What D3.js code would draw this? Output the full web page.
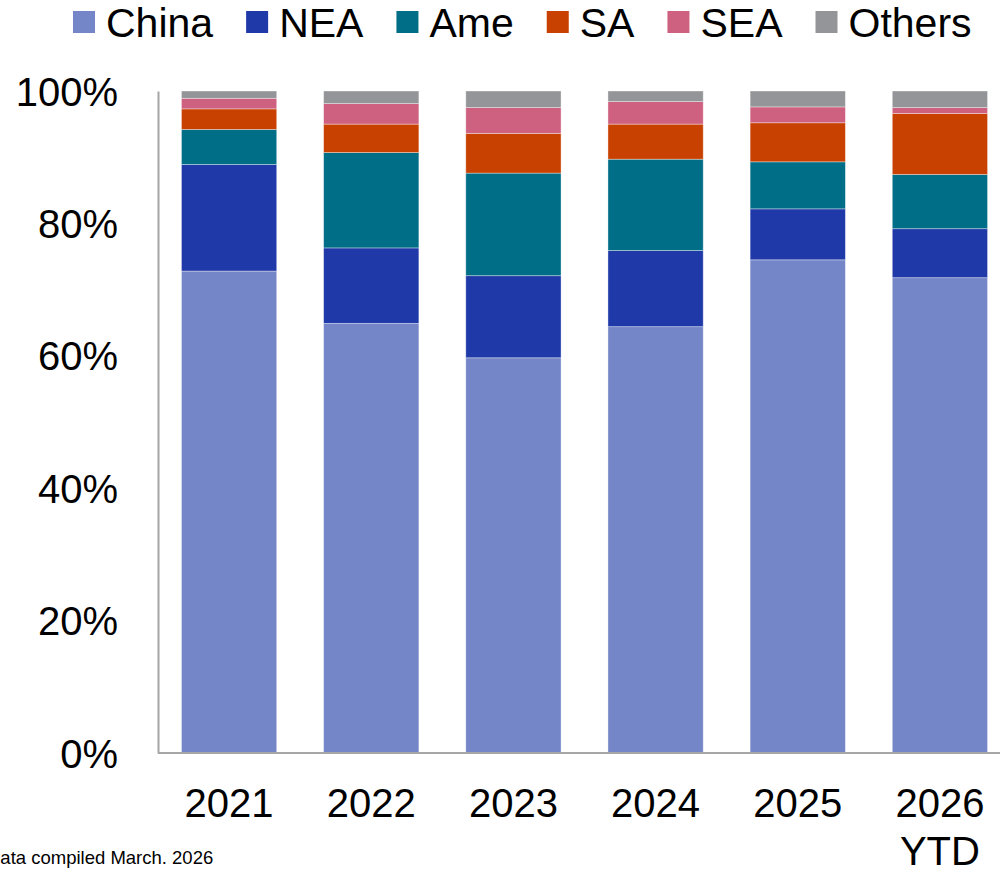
<!DOCTYPE html>
<html>
<head>
<meta charset="utf-8">
<script src="https://cdn.jsdelivr.net/npm/d3@7"></script>
<style>
  html, body { margin: 0; padding: 0; background: #fff; }
  svg { display: block; font-family: "Liberation Sans", Arial, sans-serif; }
</style>
</head>
<body>
<svg id="chart" width="1000" height="870"></svg>
<script>
// Share of volume by region, per year (percent)
const years = ["2021", "2022", "2023", "2024", "2025", "2026 YTD"];
const regions = ["China", "NEA", "Ame", "SA", "SEA", "Others"];
const colors = ["#7486C8", "#1F3AA8", "#006E87", "#C84100", "#CE6080", "#939598"];

const china  = [72.8, 64.9, 59.7, 64.4, 74.5, 71.8];
const nea    = [16.1, 11.4, 12.4, 11.5,  7.7,  7.4];
const ame    = [ 5.3, 14.4, 15.5, 13.8,  7.1,  8.2];
const sa     = [ 3.1,  4.3,  6.0,  5.3,  5.9,  9.2];
const sea    = [ 1.6,  3.1,  3.9,  3.4,  2.4,  0.9];
const others = [ 1.1,  1.9,  2.5,  1.6,  2.4,  2.5];

const yTicks = [0, 20, 40, 60, 80, 100];
const footnote = "Data compiled March. 2026";

(function () {
  const seriesValues = [china, nea, ame, sa, sea, others];
  const table = years.map((yr, i) => {
    const row = { year: yr };
    regions.forEach((r, k) => { row[r] = seriesValues[k][i]; });
    return row;
  });

  const svg = d3.select("#chart");
  const m = { left: 158, right: 1011, top: 91, bottom: 753 };

  const x = d3.scaleBand().domain(years).range([m.left, m.right]).paddingInner(0.33).paddingOuter(0.165);
  const y = d3.scaleLinear().domain([0, 100]).range([m.bottom, m.top]);
  const color = d3.scaleOrdinal().domain(regions).range(colors);

  const stacked = d3.stack().keys(regions)(table);

  svg.append("g").selectAll("g")
    .data(stacked)
    .join("g")
    .attr("fill", d => color(d.key))
    .selectAll("rect")
    .data(d => d)
    .join("rect")
    .attr("x", d => x(d.data.year))
    .attr("width", x.bandwidth())
    .attr("y", d => y(d[1]))
    .attr("height", d => y(d[0]) - y(d[1]))
    .attr("stroke", "rgba(255,255,255,0.45)")
    .attr("stroke-width", 0.8);

  // Y axis: labels only, with a grey spine
  const yAxis = d3.axisLeft(y).tickValues(yTicks).tickFormat(d => d + "%").tickSize(0).tickPadding(40);
  const gy = svg.append("g").attr("transform", `translate(${m.left},0)`).call(yAxis);
  gy.select(".domain").attr("stroke", "#A6A6A6").attr("stroke-width", 2);
  gy.selectAll("text").attr("font-size", 40).attr("fill", "#000")
    .attr("font-family", "'Liberation Sans', Arial, sans-serif").attr("dy", "0.35em");

  // X axis: year labels, second word on its own line
  const xAxis = d3.axisBottom(x).tickSize(0).tickPadding(0);
  const gx = svg.append("g").attr("transform", `translate(0,${m.bottom})`).call(xAxis);
  gx.select(".domain").remove();
  svg.append("line")
    .attr("x1", m.left).attr("x2", 1000).attr("y1", m.bottom).attr("y2", m.bottom)
    .attr("stroke", "#A6A6A6").attr("stroke-width", 2);
  gx.selectAll("text").each(function (d) {
    const t = d3.select(this);
    t.text(null).attr("y", 0).attr("dy", null)
      .attr("font-size", 40).attr("fill", "#000")
      .attr("font-family", "'Liberation Sans', Arial, sans-serif");
    d.split(" ").forEach((w, i) => {
      t.append("tspan").attr("x", 0).attr("y", 64 + i * 48).text(w);
    });
  });

  // Legend along the top
  const legend = svg.append("g");
  let lx = 73;
  regions.forEach((r, i) => {
    legend.append("rect").attr("x", lx).attr("y", 11).attr("width", 22).attr("height", 22).attr("fill", colors[i]);
    const t = legend.append("text").attr("x", lx + 33).attr("y", 37)
      .attr("font-size", 41).attr("fill", "#000").text(r);
    lx += 33 + t.node().getComputedTextLength() + 33;
  });

  // Source note, bottom-left (starts just past the page edge)
  svg.append("text").attr("x", -13).attr("y", 864).attr("font-size", 18.5).attr("fill", "#000").text(footnote);
})();
</script>
</body>
</html>
